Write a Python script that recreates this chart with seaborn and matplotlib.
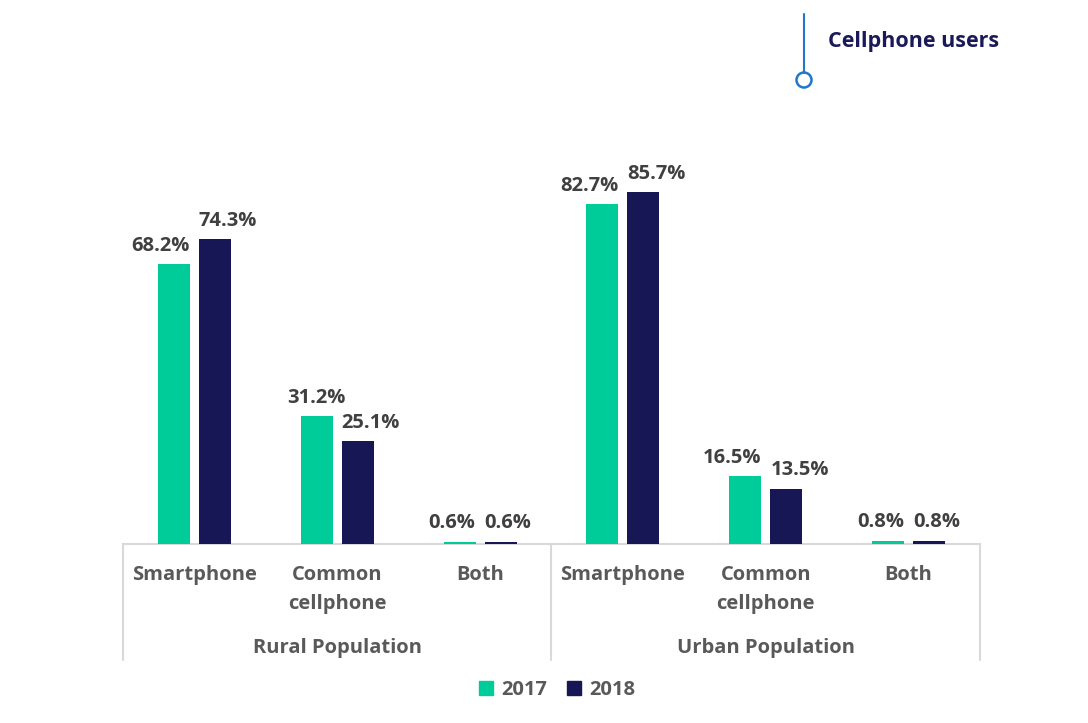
import matplotlib
matplotlib.use("Agg")
import matplotlib.pyplot as plt
import seaborn as sns
import pandas as pd
from matplotlib.patches import Circle
from matplotlib.lines import Line2D

groups = ["Rural Population", "Urban Population"]
categories = ["Smartphone", "Common\ncellphone", "Both"]
years = ["2017", "2018"]
values_2017 = [68.2, 31.2, 0.6, 82.7, 16.5, 0.8]
values_2018 = [74.3, 25.1, 0.6, 85.7, 13.5, 0.8]
title = "Cellphone users"
colors = ["#00CC99", "#171756"]

slots = [f"{g}|{c}" for g in groups for c in categories]
rows = []
for i, s in enumerate(slots):
    rows.append({"slot": s, "year": years[0], "value": values_2017[i]})
    rows.append({"slot": s, "year": years[1], "value": values_2018[i]})
df = pd.DataFrame(rows)

sns.set_theme(style="white")
plt.rcParams["font.family"] = ["Open Sans", "DejaVu Sans"]
plt.rcParams["font.weight"] = "bold"

FS = 14.5
fig = plt.figure(figsize=(10.88, 7.23), dpi=100)
ax = fig.add_axes([123/1088, 179/723, 857/1088, 410.6/723])

sns.barplot(data=df, x="slot", y="value", hue="year", order=slots,
            hue_order=years, palette=colors, width=0.574, gap=0.22,
            saturation=1, ax=ax, legend=False, zorder=3, linewidth=0)

ax.set_ylim(0, 100)
ax.set_xlim(-0.5, len(slots) - 0.5)
ax.set_xlabel("")
ax.set_ylabel("")
ax.set_yticks([])
for sp in ["left", "right", "top"]:
    ax.spines[sp].set_visible(False)
ax.spines["bottom"].set_color("#D9D9D9")
ax.spines["bottom"].set_linewidth(1.5)
ax.spines["bottom"].set_zorder(1)

ax.set_xticks(range(len(slots)))
ax.set_xticklabels([s.split("|")[1] for s in slots], fontsize=FS,
                   fontweight="bold", color="#595959", linespacing=1.62)
ax.tick_params(axis="x", length=0, pad=15)

# value labels: 2017 right-aligned to bar edge, 2018 left-aligned
c17, c18 = ax.containers[0], ax.containers[1]
lab17 = ax.bar_label(c17, fmt="%.1f%%", padding=6, fontsize=FS,
                     fontweight="bold", color="#404040")
lab18 = ax.bar_label(c18, fmt="%.1f%%", padding=6, fontsize=FS,
                     fontweight="bold", color="#404040")
for i, (a, b) in enumerate(zip(lab17, lab18)):
    p17 = c17.patches[i]
    p18 = c18.patches[i]
    b.xy = (p18.get_x(), p18.get_height())
    b.set_ha("left")
    if values_2017[i] > values_2018[i] + 5:
        continue
    a.xy = (p17.get_x() + p17.get_width(), p17.get_height())
    a.set_ha("right")

# group separators and labels
sep_h = 116 / 410.6
for xv in [-0.5, 2.5, 5.5]:
    ax.axvline(xv, ymin=-sep_h, ymax=0, clip_on=False, color="#D9D9D9", lw=1.5)
trans = ax.get_xaxis_transform()
for gi, g in enumerate(groups):
    ax.text(gi * 3 + 1, -(648 - 544) / 410.6, g, transform=trans, ha="center",
            va="center", fontsize=FS, fontweight="bold", color="#595959")

# title with marker
fig.add_artist(Line2D([804/1088, 804/1088], [1 - 14/723, 1 - 73/723],
                      color="#1F78C8", lw=1.5, transform=fig.transFigure))
fig.add_artist(Circle((804, 723 - 80), 7.5, transform=None, facecolor="white",
                      edgecolor="#1F78C8", lw=1.8))
fig.text(828/1088, 1 - 42/723, title, ha="left", va="center", fontsize=15.5,
         fontweight="bold", color="#1A1A5A")

# legend
handles = [plt.Rectangle((0, 0), 1, 1, color=c) for c in colors]
fig.legend(handles, years, loc="center", bbox_to_anchor=(557/1088, 33/723),
           ncol=2, frameon=False, handlelength=0.7,
           handleheight=0.7, handletextpad=0.4, columnspacing=1.0,
           labelcolor="#595959", prop={"weight": "bold", "size": FS})

fig.savefig("out.png", dpi=100)
